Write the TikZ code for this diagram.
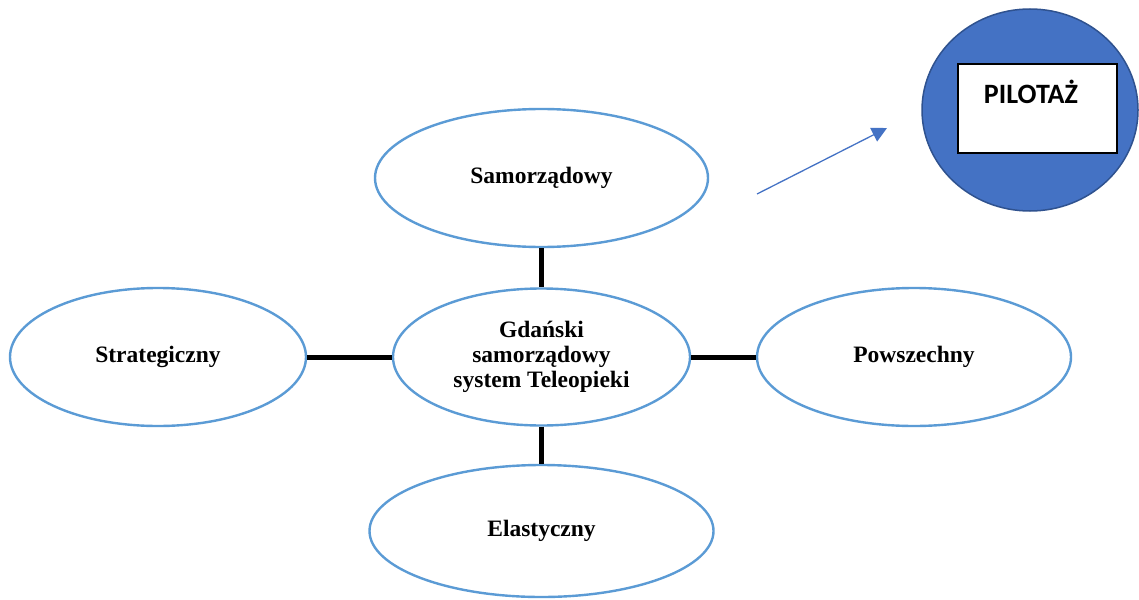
\documentclass[tikz,border=0pt]{standalone}
\usepackage{fontspec}
\setmainfont{Liberation Serif}
\newfontfamily\pilfont{Carlito}
\usetikzlibrary{shapes.geometric,arrows.meta}
\definecolor{ellblue}{HTML}{5B9BD5}
\definecolor{fillblue}{HTML}{4472C4}
\definecolor{darkblue}{HTML}{2F528F}
\tikzset{
  oval/.style={ellipse, draw=ellblue, line width=2.4pt, fill=white, inner sep=0pt,
    font=\fontsize{23.5}{25}\selectfont\bfseries, align=center},
  link/.style={line width=5pt, black},
}
\begin{document}
\begin{tikzpicture}[x=1pt,y=-1pt]
\useasboundingbox (0,0) rectangle (1139,599);
\node[oval, minimum width=333pt, minimum height=138pt] (sam) at (541.5,178) {Samorządowy};
\node[oval, minimum width=297pt, minimum height=137pt] (ctr) at (541.5,357) {Gdański\\samorządowy\\system Teleopieki};
\node[oval, minimum width=296pt, minimum height=138pt] (str) at (158,357) {Strategiczny};
\node[oval, minimum width=314pt, minimum height=138pt] (pow) at (914,357) {Powszechny};
\node[oval, minimum width=344pt, minimum height=132pt] (ela) at (541.5,531) {Elastyczny};
\draw[link] (sam.south) -- (ctr.north);
\draw[link] (ctr.south) -- (ela.north);
\draw[link] (str.east) -- (ctr.west);
\draw[link] (ctr.east) -- (pow.west);
\node[ellipse, draw=darkblue, line width=1.5pt, fill=fillblue, inner sep=0pt,
  minimum width=216pt, minimum height=202pt] (pil) at (1030,110) {};
\node[rectangle, draw=black, line width=1.8pt, fill=white, inner sep=0pt,
  minimum width=159pt, minimum height=89pt] (box) at (1037.5,108.5) {};
\node[anchor=base, font=\pilfont\fontsize{28}{30}\selectfont\bfseries, inner sep=0pt] (ptxt) at (1031,103) {PILOTAŻ};
\coordinate (a0) at (757,194);
\coordinate (a1) at (887,128);
\draw[fillblue, line width=1.3pt, -{Triangle[length=15pt,width=15pt]}] (a0) -- (a1);
\end{tikzpicture}
\end{document}
